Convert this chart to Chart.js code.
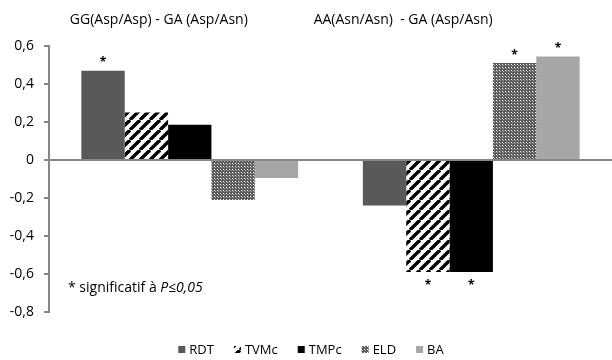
<!DOCTYPE html>
<html>
<head>
<meta charset="utf-8">
<script src="https://cdn.jsdelivr.net/npm/chart.js@4/dist/chart.umd.min.js"></script>
<style>
  html, body { margin: 0; padding: 0; background: #fff; }
  #wrap { width: 612px; height: 360px; position: relative; }
</style>
</head>
<body>
<div id="wrap"><canvas id="c" width="612" height="360"></canvas></div>
<script>
// Genotype contrasts (difference of means between genotype groups)
const categories = ['GG(Asp/Asp) - GA (Asp/Asn)', 'AA(Asn/Asn)  - GA (Asp/Asn)'];
const seriesNames = ['RDT', 'TVMc', 'TMPc', 'ELD', 'BA'];
const RDT  = [0.47, -0.24];
const TVMc = [0.25, -0.59];
const TMPc = [0.185, -0.59];
const ELD  = [-0.21, 0.51];
const BA   = [-0.095, 0.545];
// significance flags (P <= 0.05), same order as the series
const sigRDT  = [true, false];
const sigTVMc = [false, true];
const sigTMPc = [false, true];
const sigELD  = [false, true];
const sigBA   = [false, true];
const yTicks = [-0.8, -0.6, -0.4, -0.2, 0, 0.2, 0.4, 0.6];

const FONT = '"Open Sans", "Liberation Sans", sans-serif';

function makeStripes() {
  const s = 10, cv = document.createElement('canvas');
  cv.width = s; cv.height = s;
  const g = cv.getContext('2d');
  g.fillStyle = '#fff'; g.fillRect(0, 0, s, s);
  g.strokeStyle = '#000'; g.lineWidth = 3.4;
  for (const o of [-s, 0, s]) {
    g.beginPath(); g.moveTo(o, s); g.lineTo(o + s, 0); g.stroke();
  }
  return g.createPattern(cv, 'repeat');
}
function makeChecker() {
  const cv = document.createElement('canvas');
  cv.width = 3; cv.height = 3;
  const g = cv.getContext('2d');
  g.fillStyle = '#5a5a5a'; g.fillRect(0, 0, 3, 3);
  g.fillStyle = '#ffffff'; g.fillRect(1, 1, 1, 1);
  g.fillStyle = '#a8a8a8'; g.fillRect(2, 2, 1, 1);
  return g.createPattern(cv, 'repeat');
}

const fills = ['#595959', makeStripes(), '#000000', makeChecker(), '#a6a6a6'];
const values = [RDT, TVMc, TMPc, ELD, BA];
const sigs = [sigRDT, sigTVMc, sigTMPc, sigELD, sigBA];

const datasets = seriesNames.map((name, i) => ({
  label: name,
  data: values[i],
  sig: sigs[i],
  backgroundColor: fills[i],
  borderWidth: 0,
  categoryPercentage: 0.77,
  barPercentage: 1.0
}));

// group headings above the plot
const headerPlugin = {
  id: 'headers',
  afterDraw(chart) {
    const { ctx, chartArea } = chart;
    const w = chartArea.right - chartArea.left;
    const centers = [0.195, 0.629];
    ctx.save();
    ctx.fillStyle = '#000';
    ctx.font = '14px ' + FONT;
    ctx.textAlign = 'center';
    ctx.textBaseline = 'middle';
    categories.forEach((t, i) => ctx.fillText(t, chartArea.left + centers[i] * w, 20));
    ctx.restore();
  }
};
// asterisks above / below the significant bars
const starPlugin = {
  id: 'stars',
  afterDatasetsDraw(chart) {
    const { ctx } = chart;
    ctx.save();
    ctx.fillStyle = '#000';
    ctx.font = 'bold 12px ' + FONT;
    ctx.textAlign = 'center';
    ctx.textBaseline = 'middle';
    chart.data.datasets.forEach((ds, di) => {
      chart.getDatasetMeta(di).data.forEach((bar, j) => {
        if (!ds.sig[j]) return;
        const v = ds.data[j];
        const y = v >= 0 ? bar.y - 8 : bar.y + 13;
        ctx.fillText('*', bar.x, y);
      });
    });
    ctx.restore();
  }
};
// footnote inside the plot
const notePlugin = {
  id: 'note',
  afterDraw(chart) {
    const { ctx, chartArea } = chart;
    ctx.save();
    ctx.fillStyle = '#000';
    ctx.textBaseline = 'middle';
    ctx.textAlign = 'left';
    const x0 = chartArea.left + 19, y0 = 288;
    ctx.font = '14px ' + FONT;
    const part = '* significatif à ';
    ctx.fillText(part, x0, y0);
    const w = ctx.measureText(part).width;
    ctx.font = 'italic 14px ' + FONT;
    ctx.fillText('P≤0,05', x0 + w, y0);
    ctx.restore();
  }
};
// legend row under the plot, built from the datasets
const legendPlugin = {
  id: 'rowLegend',
  afterDraw(chart) {
    const { ctx } = chart;
    const box = 7, gapText = 4, gapItem = 20, y = 350;
    ctx.save();
    ctx.font = '13px ' + FONT;
    ctx.textBaseline = 'middle';
    ctx.textAlign = 'left';
    const items = chart.data.datasets.map(ds => ({ label: ds.label, fill: ds.backgroundColor, w: ctx.measureText(ds.label).width }));
    const total = items.reduce((s, it) => s + box + gapText + it.w, 0) + gapItem * (items.length - 1);
    let x = 311 - total / 2;
    items.forEach(it => {
      ctx.fillStyle = it.fill;
      ctx.fillRect(x, y - 4, box, box);
      ctx.fillStyle = '#000';
      ctx.fillText(it.label, x + box + gapText, y);
      x += box + gapText + it.w + gapItem;
    });
    ctx.restore();
  }
};

new Chart(document.getElementById('c'), {
  type: 'bar',
  data: { labels: categories, datasets },
  plugins: [headerPlugin, starPlugin, notePlugin, legendPlugin],
  options: {
    responsive: false,
    animation: false,
    devicePixelRatio: 1,
    layout: { padding: { top: 46, right: 0, bottom: 48, left: 0 } },
    plugins: {
      tooltip: { enabled: false },
      title: { display: false },
      legend: { display: false }
    },
    scales: {
      x: { display: false },
      y: {
        min: -0.8,
        max: 0.6,
        afterFit(scale) { scale.width = 49; },
        afterBuildTicks(scale) { scale.ticks = yTicks.map(v => ({ value: v })); },
        border: { display: true, color: '#868686', width: 2 },
        grid: {
          drawOnChartArea: true,
          color: c => (c.tick && Math.abs(c.tick.value) < 1e-9) ? '#868686' : 'rgba(0,0,0,0)',
          lineWidth: 2,
          tickColor: '#868686',
          tickLength: 5
        },
        ticks: {
          padding: 10,
          color: '#000',
          font: { family: FONT, size: 14 },
          callback: v => (Math.abs(v) < 1e-9 ? '0' : (Math.round(v * 10) / 10).toString().replace('.', ','))
        }
      }
    }
  }
});
</script>
</body>
</html>
